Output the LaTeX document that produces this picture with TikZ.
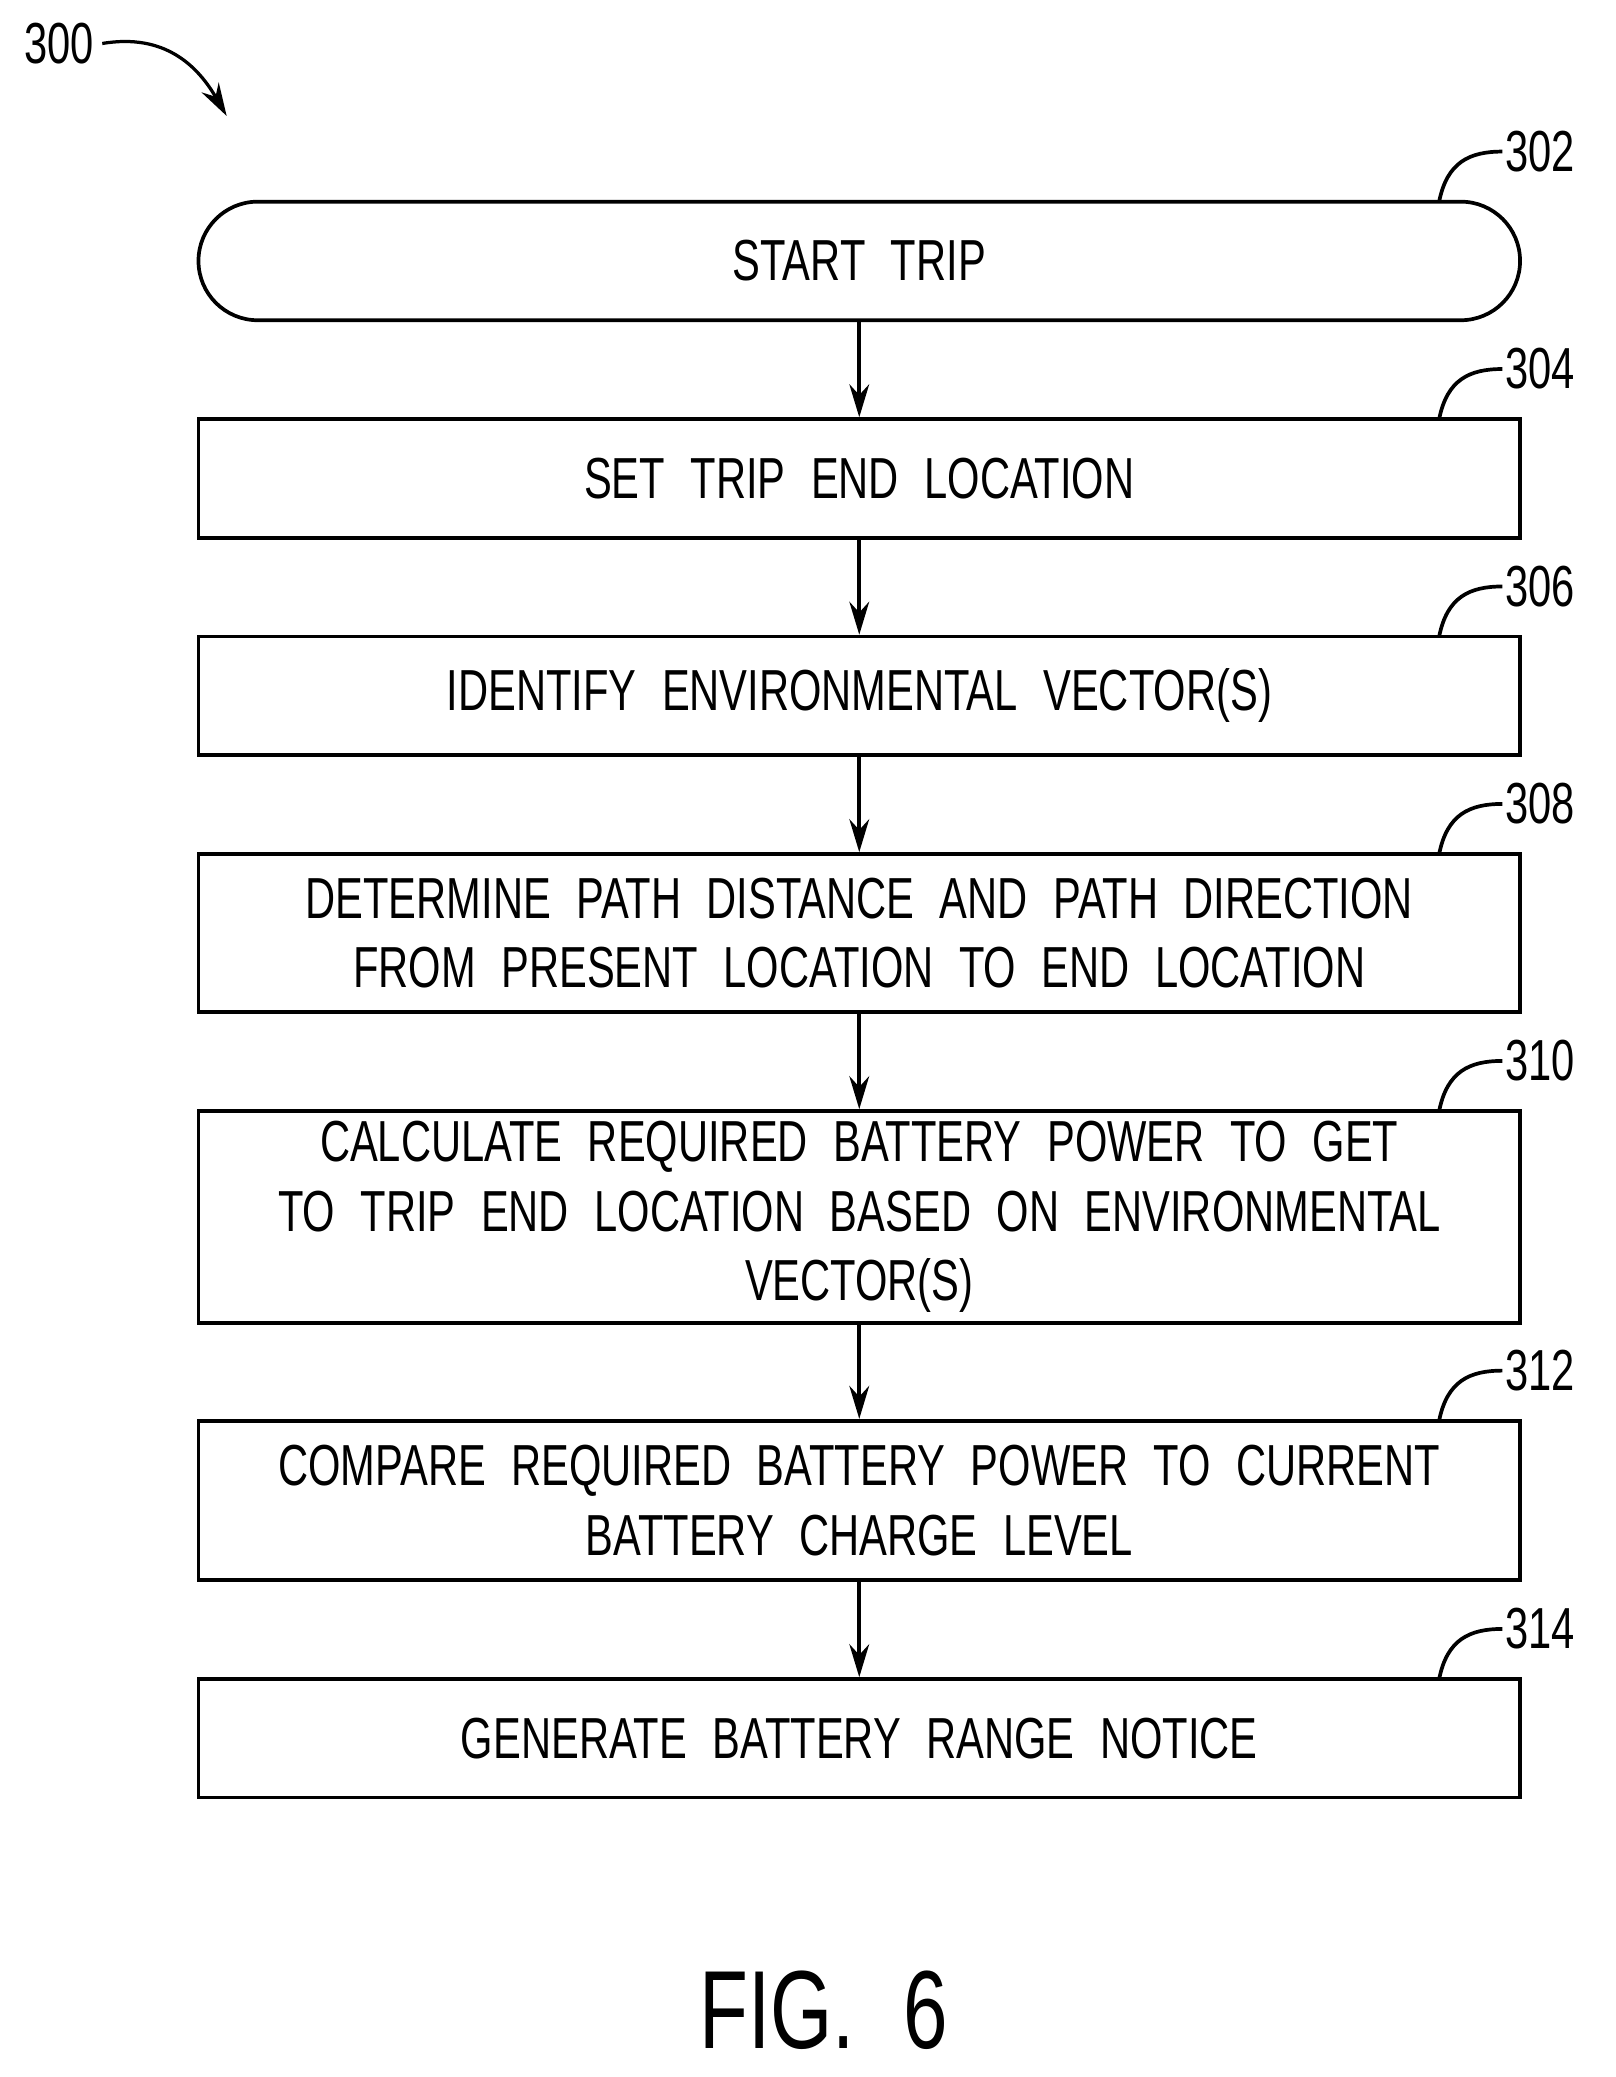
\documentclass[tikz,border=0pt]{standalone}
\usepackage{fontspec}
\setmainfont{Liberation Sans}[FakeStretch=0.72,WordSpace=2.2]
\usetikzlibrary{positioning,arrows.meta}
\tikzset{
  box/.style={draw, line width=1.6pt, minimum width=20.06cm, align=center, font=\fontsize{25}{30}\selectfont, inner sep=0pt},
  term/.style={box, rounded corners=0.9cm},
  flow/.style={-{Stealth[length=5mm,width=3mm]}, line width=1.6pt},
  refnum/.style={font=\fontsize{25}{30}\selectfont, anchor=west, inner sep=1pt},
}
\begin{document}
\begin{tikzpicture}[x=0.02cm,y=-0.02cm]
\useasboundingbox (0,0) rectangle (1226,1576);
% steps
\node[term, minimum height=1.8cm] (s302) at (652,198) {START TRIP};
\node[box, minimum height=1.8cm] (s304) at (652,363) {SET TRIP END LOCATION};
\node[box, minimum height=1.8cm] (s306) at (652,528) {IDENTIFY ENVIRONMENTAL VECTOR(S)};
\node[box, minimum height=2.4cm] (s308) at (652,708) {DETERMINE PATH DISTANCE AND PATH DIRECTION\\FROM PRESENT LOCATION TO END LOCATION};
\node[box, minimum height=3.22cm] (s310) at (652,923.5) {CALCULATE REQUIRED BATTERY POWER TO GET\\TO TRIP END LOCATION BASED ON ENVIRONMENTAL\\VECTOR(S)};
\node[box, minimum height=2.42cm] (s312) at (652,1138.5) {COMPARE REQUIRED BATTERY POWER TO CURRENT\\BATTERY CHARGE LEVEL};
\node[box, minimum height=1.8cm] (s314) at (652,1319) {GENERATE BATTERY RANGE NOTICE};
% connectors
\foreach \a/\b in {s302/s304,s304/s306,s306/s308,s308/s310,s310/s312,s312/s314}
  \draw[flow] (\a) -- (\b);
% reference numerals
\foreach \n/\y in {302/153,304/318,306/483,308/648,310/843,312/1078,314/1274}{
  \coordinate (c\n) at (1092,\y);
  \draw[line width=1.6pt] (c\n) .. controls (1098,\y-30) and (1115,\y-38) .. (1140,\y-38);
  \node[refnum] (r\n) at (1140,\y-38) {\n};
}
\node[font=\fontsize{25}{30}\selectfont] (r300) at (45,33) {300};
\coordinate (p300) at (172,88);
\draw[flow, line width=1.4pt] (r300.east) .. controls (125,25) and (150,50) .. (p300);
\node[font=\fontsize{48}{56}\selectfont] (fig) at (625,1525) {FIG. 6};
\end{tikzpicture}
\end{document}
